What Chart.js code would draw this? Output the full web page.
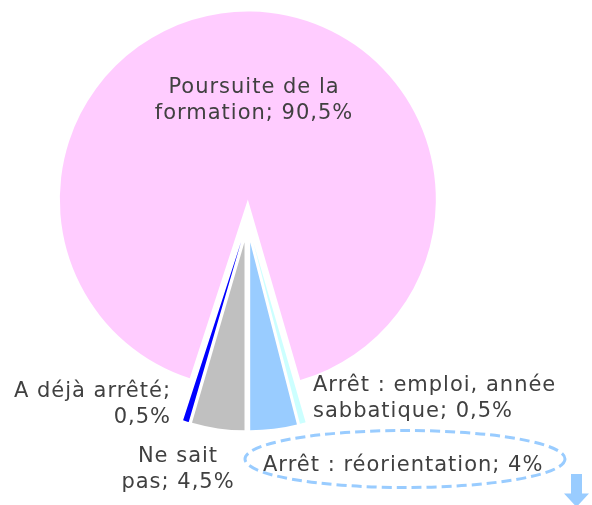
<!DOCTYPE html>
<html lang="fr">
<head>
<meta charset="utf-8">
<script src="https://cdn.jsdelivr.net/npm/chart.js@4.4.0/dist/chart.umd.min.js"></script>
<style>
  html, body { margin: 0; padding: 0; background: #fff; }
  #wrap { width: 592px; height: 505px; position: relative; overflow: hidden; }
</style>
</head>
<body>
<div id="wrap"><canvas id="pie" width="592" height="505"></canvas></div>
<script>
// Catégories, valeurs (%) et couleurs des parts
const categories = ['Poursuite de la formation', 'Arrêt : emploi, année sabbatique', 'Arrêt : réorientation', 'Ne sait pas', 'A déjà arrêté'];
const values = [90.5, 0.5, 4, 4.5, 0.5];
const colors = ['#FFCCFF', '#CCFFFF', '#99CCFF', '#C0C0C0', '#0000FF'];

// nombre de mots par ligne pour chaque étiquette, et point d'ancrage
const labelLines = [[3, 2], [4, 2], [5], [2, 2], [3, 1]];
const labelAnchors = [
  { x: 254, y: 93, align: 'center' },
  { x: 313, y: 391, align: 'left' },
  { x: 263, y: 471, align: 'left' },
  { x: 178, y: 462, align: 'center' },
  { x: 171, y: 397, align: 'right' }
];
const LINE_H = 25.5;
const EXPLODE = 21.5; // éclatement des parts, en px

const fmtPct = v => String(v).replace('.', ',') + '%';

// chaque part est décalée le long de sa bissectrice
const explodePlugin = {
  id: 'explode',
  beforeDatasetDraw(chart, args) {
    const ctx = chart.ctx;
    args.meta.data.forEach(arc => {
      const mid = (arc.startAngle + arc.endAngle) / 2;
      ctx.save();
      ctx.translate(Math.cos(mid) * EXPLODE, Math.sin(mid) * EXPLODE);
      arc.draw(ctx);
      ctx.restore();
    });
    return false;
  }
};

// étiquettes "catégorie; valeur", ellipse pointillée et flèche
const labelPlugin = {
  id: 'labels',
  afterDraw(chart) {
    const ctx = chart.ctx;
    ctx.save();
    ctx.font = '21px "DejaVu Sans", sans-serif';
    ctx.fillStyle = '#404040';
    if ('letterSpacing' in ctx) ctx.letterSpacing = '1px';
    ctx.textBaseline = 'alphabetic';
    categories.forEach((cat, i) => {
      const words = (cat + '; ' + fmtPct(values[i])).split(' ');
      const a = labelAnchors[i];
      ctx.textAlign = a.align;
      let k = 0;
      labelLines[i].forEach((n, j) => {
        const line = words.slice(k, k + n).join(' ');
        k += n;
        ctx.fillText(line, a.x, a.y + j * LINE_H);
      });
    });
    ctx.restore();

    // mise en évidence de la réorientation
    ctx.save();
    ctx.strokeStyle = '#99CCFF';
    ctx.lineWidth = 3;
    ctx.setLineDash([10, 5]);
    ctx.beginPath();
    ctx.ellipse(405, 459, 160, 28.5, 0, 0, Math.PI * 2);
    ctx.stroke();
    ctx.setLineDash([]);
    ctx.fillStyle = '#99CCFF';
    ctx.beginPath();
    ctx.moveTo(571, 474);
    ctx.lineTo(582, 474);
    ctx.lineTo(582, 493.5);
    ctx.lineTo(589, 493.5);
    ctx.lineTo(576.5, 507);
    ctx.lineTo(564, 493.5);
    ctx.lineTo(571, 493.5);
    ctx.closePath();
    ctx.fill();
    ctx.restore();
  }
};

new Chart(document.getElementById('pie'), {
  type: 'pie',
  data: {
    labels: categories,
    datasets: [{
      data: values,
      backgroundColor: colors,
      borderWidth: 0
    }]
  },
  options: {
    responsive: false,
    animation: false,
    events: [],
    rotation: -162,
    radius: 188,
    layout: { padding: { right: 97, bottom: 63 } },
    plugins: {
      legend: { display: false },
      tooltip: { enabled: false }
    }
  },
  plugins: [explodePlugin, labelPlugin]
});
</script>
</body>
</html>
